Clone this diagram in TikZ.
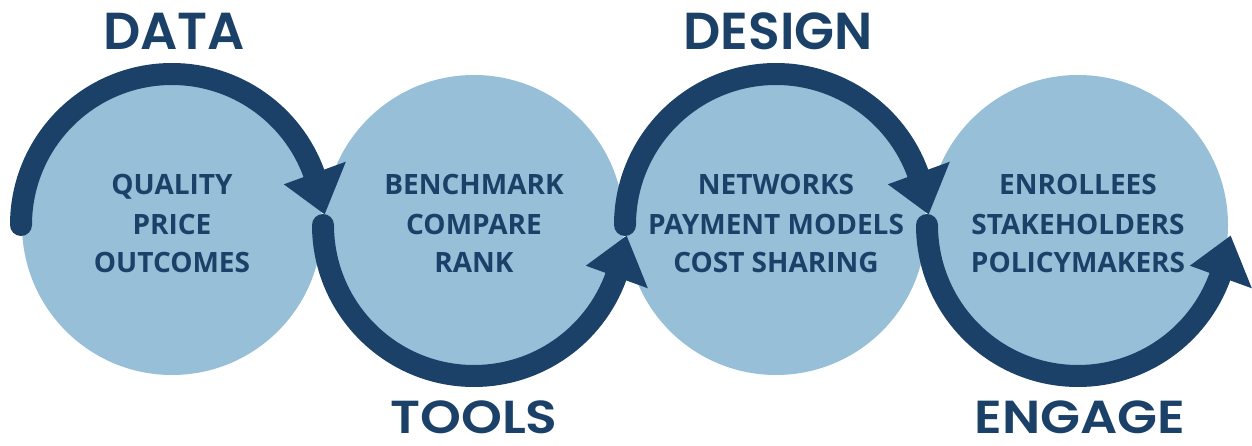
\documentclass[tikz,border=0pt]{standalone}
\usepackage{fontspec}
\newfontfamily\labelfont{Open Sans}
\newfontfamily\titlefont{Poppins}[UprightFont={* SemiBold}]
\definecolor{navy}{HTML}{1B4169}
\definecolor{sky}{HTML}{97C0D8}
\begin{document}
\begin{tikzpicture}[x=1pt,y=1pt,
  disc/.style={circle, fill=sky, minimum size=300pt, inner sep=0pt},
  loopline/.style={draw=navy, line width=22pt, line cap=round},
  headtip/.style={fill=navy},
  item/.style={text=navy, inner sep=0pt, anchor=base,
    font=\labelfont\bfseries\fontsize{28}{34}\selectfont},
  phase/.style={text=navy, inner sep=0pt, anchor=base, text depth=0pt,
    font=\titlefont\fontsize{52}{60}\selectfont},
  phaselow/.style={phase, transform shape, yscale=0.89}]
\useasboundingbox (0,0) rectangle (1252,445);

% the four discs
\node[disc] (c1) at (172,220) {};
\node[disc] (c2) at (474,220) {};
\node[disc] (c3) at (776,220) {};
\node[disc] (c4) at (1078,220) {};

% upper half-loops (clockwise over the top)
\foreach \c in {c1,c3} {
  \draw[loopline] ([shift={(180:151)}]\c.center) arc[start angle=180, end angle=20, radius=151];
  \fill[headtip] ([shift={(20:119)}]\c.center) -- ([shift={(20:185)}]\c.center)
    -- ([shift={(4:153)}]\c.center) -- cycle;
}
% lower half-loops (counter-clockwise under the bottom)
\foreach \c in {c2,c4} {
  \draw[loopline] ([shift={(180:151)}]\c.center) arc[start angle=180, end angle=340, radius=151];
  \fill[headtip] ([shift={(-20:119)}]\c.center) -- ([shift={(-20:185)}]\c.center)
    -- ([shift={(-4:153)}]\c.center) -- cycle;
}

% phase titles
\node[phase] (tdata) at (174,395) {DATA};
\node[phase] (tdesign) at (778,395) {DESIGN};
\node[phaselow] (ttools) at (474,12) {TOOLS};
\node[phaselow] (tengage) at (1080,12) {ENGAGE};

% disc contents
\node[item] (a1) at (172,250) {QUALITY};
\node[item] (a2) at (172,211) {PRICE};
\node[item] (a3) at (172,173) {OUTCOMES};

\node[item] (b1) at (474,250) {BENCHMARK};
\node[item] (b2) at (474,211) {COMPARE};
\node[item] (b3) at (474,173) {RANK};

\node[item] (d1) at (776,250) {NETWORKS};
\node[item] (d2) at (776,211) {PAYMENT MODELS};
\node[item] (d3) at (776,173) {COST SHARING};

\node[item] (e1) at (1078,250) {ENROLLEES};
\node[item] (e2) at (1078,211) {STAKEHOLDERS};
\node[item] (e3) at (1078,173) {POLICYMAKERS};
\end{tikzpicture}
\end{document}
